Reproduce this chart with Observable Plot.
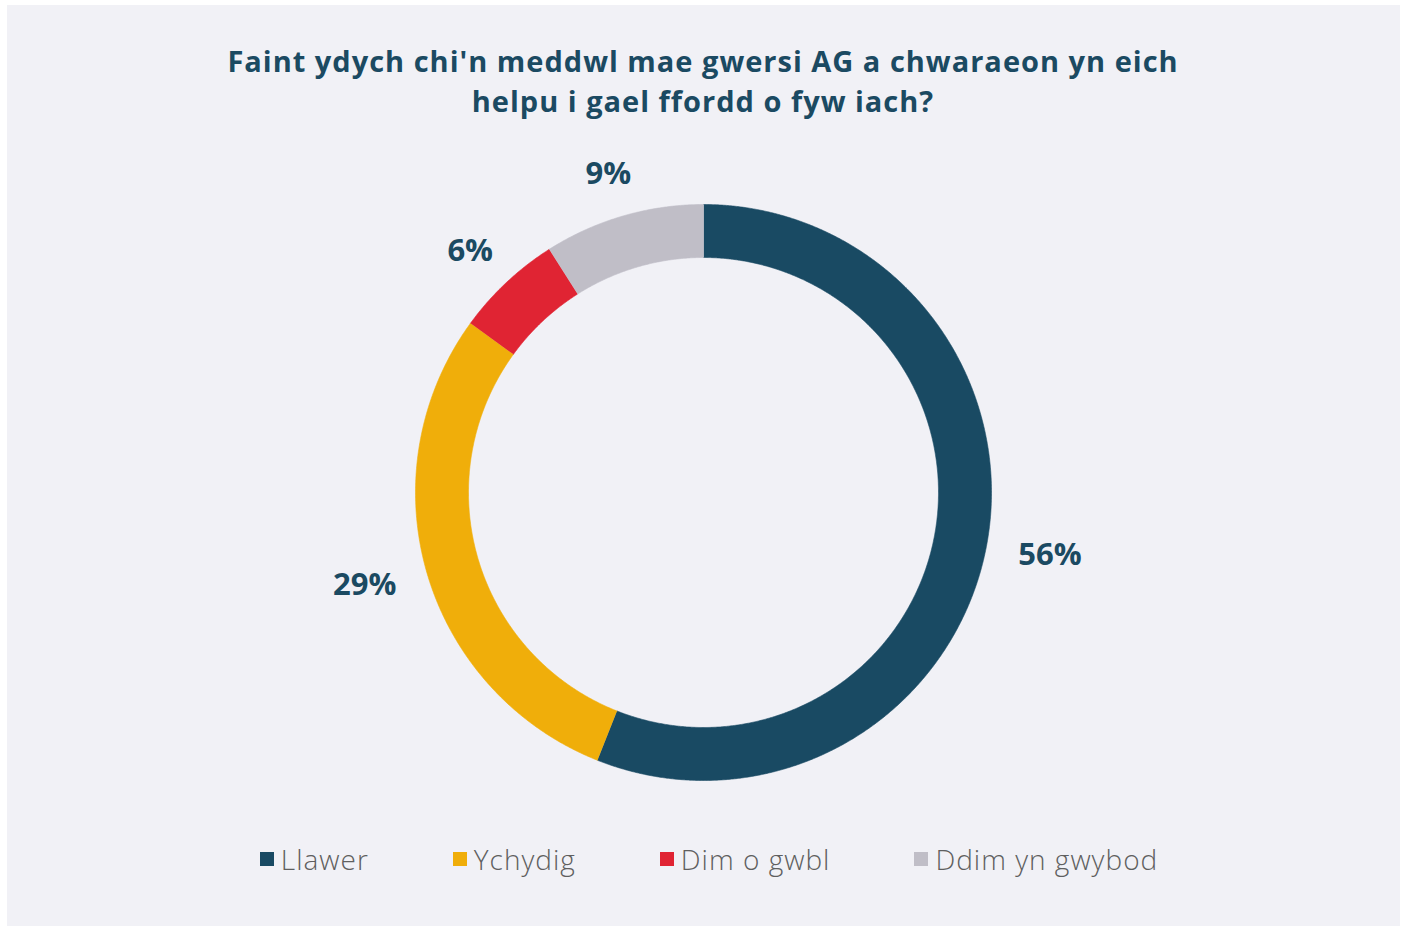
<!DOCTYPE html>
<html>
<head>
<meta charset="utf-8">
<script src="https://cdn.jsdelivr.net/npm/d3@7"></script>
<script src="https://cdn.jsdelivr.net/npm/@observablehq/plot@0.6"></script>
<style>
  html, body { margin: 0; padding: 0; background: #ffffff; }
  body { width: 1406px; height: 926px; position: relative; overflow: hidden; font-family: "Open Sans", sans-serif; }
  #panel { position: absolute; left: 7px; top: 5px; width: 1393px; height: 921px; background: #f1f1f6; }
  .tl { position: absolute; left: 0; width: 1406px; height: 40px; text-align: center; color: #1b4a62;
        font-size: 29px; font-weight: 700; line-height: 40px; letter-spacing: 1px; white-space: nowrap; }
  #chart { position: absolute; left: 0; top: 130px; }
  #legend { position: absolute; left: 12px; top: 840px; width: 1394px; height: 38px; display: flex;
            justify-content: center; gap: 84px; align-items: center; }
  .item { display: flex; align-items: center; color: #5f5f5f; font-size: 28px; font-weight: 300; line-height: 38px; letter-spacing: 1px; }
  .sw { width: 14px; height: 14px; margin-right: 7px; }
</style>
</head>
<body>
<div id="panel"></div>
<div class="tl" style="top:41px">Faint ydych chi'n meddwl mae gwersi AG a chwaraeon yn eich</div>
<div class="tl" style="top:81px">helpu i gael ffordd o fyw iach?</div>
<div id="chart"></div>
<div id="legend"></div>
<script>
const categories = ["Llawer", "Ychydig", "Dim o gwbl", "Ddim yn gwybod"];
const values = [56, 29, 6, 9];
const labels = ["56%", "29%", "6%", "9%"];
const colors = ["#194a63", "#f0ae0a", "#e02433", "#c0bec7"];

const R_PX = 288;           // outer radius in pixels
const INNER = 235 / 288;    // inner radius as fraction of outer

const pie = d3.pie().sort(null).value(d => d.value);
const arcs = pie(categories.map((c, i) => ({cat: c, value: values[i], label: labels[i]})));

// polygon points for each donut slice (data units, outer radius = 1)
const pts = [];
for (const a of arcs) {
  const n = Math.max(2, Math.ceil((a.endAngle - a.startAngle) / 0.005));
  for (let k = 0; k <= n; k++) {
    const t = a.startAngle + (a.endAngle - a.startAngle) * k / n;
    pts.push({cat: a.data.cat, x: Math.sin(t), y: Math.cos(t)});
  }
  for (let k = n; k >= 0; k--) {
    const t = a.startAngle + (a.endAngle - a.startAngle) * k / n;
    pts.push({cat: a.data.cat, x: INNER * Math.sin(t), y: INNER * Math.cos(t)});
  }
}

// label positions: mid-angle, just outside the ring, shifted by half the text box
const lab = arcs.map(a => {
  const m = (a.startAngle + a.endAngle) / 2;
  const s = Math.sin(m), c = Math.cos(m);
  const r0 = 1.1;
  const hw = a.data.label.length * 12, hh = 15;
  return {
    text: a.data.label,
    x: r0 * s + (s * hw) / R_PX,
    y: r0 * c + (c * hh) / R_PX
  };
});

const chart = Plot.plot({
  width: 1406,
  height: 700,
  marginLeft: 703 - R_PX,
  marginRight: 1406 - 703 - R_PX,
  marginTop: 362 - R_PX,
  marginBottom: 700 - 362 - R_PX,
  x: {domain: [-1, 1], axis: null},
  y: {domain: [-1, 1], axis: null},
  color: {domain: categories, range: colors},
  style: {background: "transparent", overflow: "visible"},
  marks: [
    Plot.line(pts, {x: "x", y: "y", z: "cat", fill: "cat", stroke: "cat", strokeWidth: 0.6, curve: "linear"}),
    Plot.text(lab, {x: "x", y: "y", text: "text", fill: "#1b4a62", fontSize: 31, fontWeight: 700,
                    fontFamily: "Open Sans", textAnchor: "middle"})
  ]
});
document.getElementById("chart").appendChild(chart);

const legend = document.getElementById("legend");
categories.forEach((c, i) => {
  const it = document.createElement("div");
  it.className = "item";
  const sw = document.createElement("div");
  sw.className = "sw";
  sw.style.background = colors[i];
  it.appendChild(sw);
  const tx = document.createElement("span");
  tx.textContent = c;
  it.appendChild(tx);
  legend.appendChild(it);
});
</script>
</body>
</html>
